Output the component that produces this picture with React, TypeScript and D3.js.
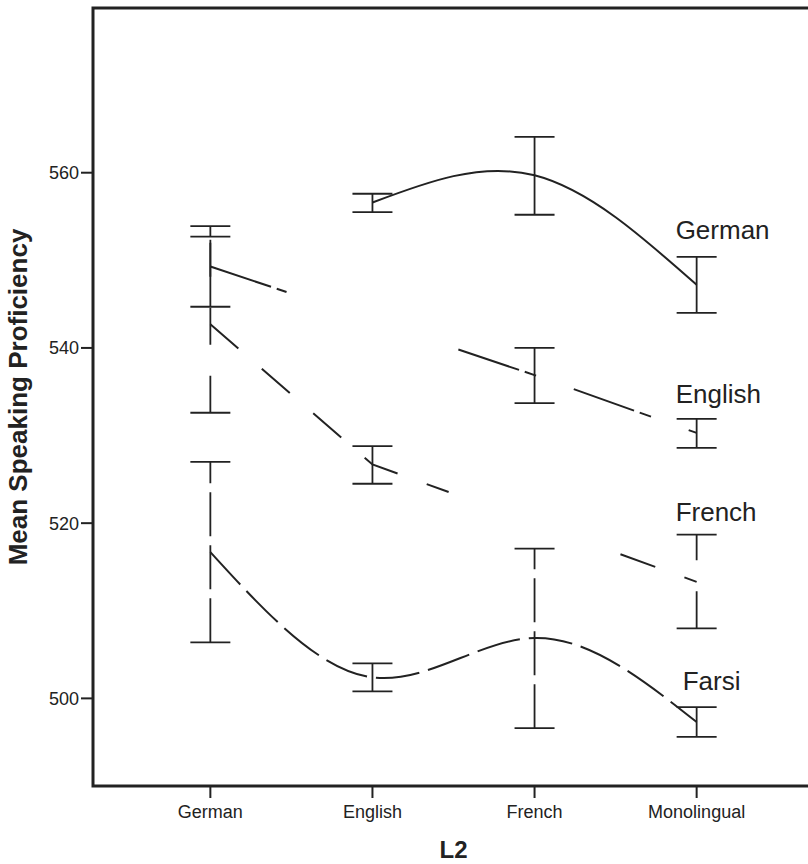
import React from "react";
import * as d3 from "d3";

const categories = ["German", "English", "French", "Monolingual"];
const seriesNames = ["German", "English", "French", "Farsi"];

const germanMean = [null, 556.6, 559.7, 547.2];
const germanLow = [null, 555.5, 555.2, 544.0];
const germanHigh = [null, 557.6, 564.1, 550.4];

const englishMean = [549.3, null, 536.9, 530.3];
const englishLow = [544.7, null, 533.7, 528.6];
const englishHigh = [553.9, null, 540.0, 531.9];

const frenchMean = [542.7, 526.7, null, 513.3];
const frenchLow = [532.6, 524.5, null, 508.0];
const frenchHigh = [552.7, 528.8, null, 518.7];

const farsiMean = [516.7, 502.4, 506.9, 497.3];
const farsiLow = [506.4, 500.8, 496.6, 495.6];
const farsiHigh = [527.0, 504.0, 517.1, 499.0];

const labelValues = [552.4, 533.7, 520.2, 501.0];
const yTicks = [500, 520, 540, 560];

const W = 808;
const H = 864;
const left = 93;
const right = 814;
const top = 8;
const bottom = 786;
const ink = "#222";
const FONT = "'Liberation Sans', Arial, Helvetica, sans-serif";

const means = [germanMean, englishMean, frenchMean, farsiMean];
const lows = [germanLow, englishLow, frenchLow, farsiLow];
const highs = [germanHigh, englishHigh, frenchHigh, farsiHigh];
const dashes = ["none", "64,6,12,40", "37,31", "44,9"];
const curves = [d3.curveNatural, d3.curveLinear, d3.curveLinear, d3.curveNatural];
const labelDx = [-21, -21, -21, -14];

export default function App() {
  const x = d3.scalePoint<string>().domain(categories).range([left, right]).padding(0.724);
  const y = d3.scaleLinear().domain([490, 578.8]).range([bottom, top]);
  const step = x.step();
  const gap = step * 0.53;
  const capHalf = 20;

  const renderSeries = (si: number) => {
    const m = means[si];
    const pts: [number, number][] = [];
    categories.forEach((c, i) => {
      if (m[i] != null) pts.push([x(c)!, y(m[i] as number)]);
    });
    const missing = m.findIndex((v, i) => v == null && i > 0 && i < m.length - 1);
    const line = d3.line().curve(curves[si]);
    const paths: string[] = [];
    if (missing >= 0) {
      const xm = x(categories[missing])!;
      const prev = [x(categories[missing - 1])!, y(m[missing - 1] as number)];
      const next = [x(categories[missing + 1])!, y(m[missing + 1] as number)];
      const interp = (xx: number): [number, number] => [
        xx,
        prev[1] + ((next[1] - prev[1]) * (xx - prev[0])) / (next[0] - prev[0]),
      ];
      const lp = pts.filter((p) => p[0] < xm);
      lp.push(interp(xm - gap));
      const rp: [number, number][] = [interp(xm + gap), ...pts.filter((p) => p[0] > xm)];
      paths.push(line(lp)!, line(rp)!);
    } else {
      paths.push(line(pts)!);
    }
    return (
      <g key={"s" + si}>
        {paths.map((d, k) => (
          <path key={k} d={d} fill="none" stroke={ink} strokeWidth={2} strokeDasharray={dashes[si]} />
        ))}
        {categories.map((c, i) => {
          if (m[i] == null) return null;
          const cx = x(c)!;
          const yl = y(lows[si][i] as number);
          const yh = y(highs[si][i] as number);
          return (
            <g key={i}>
              <line x1={cx} x2={cx} y1={yl} y2={yh} stroke={ink} strokeWidth={1.8} strokeDasharray={dashes[si]} />
              <line x1={cx - capHalf} x2={cx + capHalf} y1={yl} y2={yl} stroke={ink} strokeWidth={1.8} />
              <line x1={cx - capHalf} x2={cx + capHalf} y1={yh} y2={yh} stroke={ink} strokeWidth={1.8} />
            </g>
          );
        })}
      </g>
    );
  };

  const xLast = x(categories[categories.length - 1])!;

  return (
    <svg width={W} height={H} style={{ position: "absolute", left: 0, top: 0, background: "#fff" }} fontFamily={FONT}>
      <rect x={0} y={0} width={W} height={H} fill="#fff" />
      {seriesNames.map((_, si) => renderSeries(si))}
      {seriesNames.map((name, si) => (
        <text key={"l" + si} x={xLast + labelDx[si]} y={y(labelValues[si])} fontSize={26} fill={ink}>
          {name}
        </text>
      ))}
      <rect x={left} y={top} width={right - left} height={bottom - top} fill="none" stroke={ink} strokeWidth={3} />
      {yTicks.map((t) => (
        <g key={"yt" + t}>
          <line x1={left - 12} x2={left} y1={y(t)} y2={y(t)} stroke={ink} strokeWidth={2} />
          <text x={left - 14} y={y(t) + 6.5} textAnchor="end" fontSize={18} fill={ink}>
            {t}
          </text>
        </g>
      ))}
      {categories.map((c) => (
        <g key={"xt" + c}>
          <line x1={x(c)!} x2={x(c)!} y1={bottom} y2={bottom + 12} stroke={ink} strokeWidth={2} />
          <text x={x(c)!} y={818} textAnchor="middle" fontSize={18} fill={ink}>
            {c}
          </text>
        </g>
      ))}
      <text x={(left + right) / 2} y={858} textAnchor="middle" fontSize={24} fontWeight="bold" fill={ink}>
        L2
      </text>
      <text
        transform={`translate(27,${(top + bottom) / 2}) rotate(-90)`}
        textAnchor="middle"
        fontSize={26}
        fontWeight="bold"
        fill={ink}
      >
        Mean Speaking Proficiency
      </text>
    </svg>
  );
}
